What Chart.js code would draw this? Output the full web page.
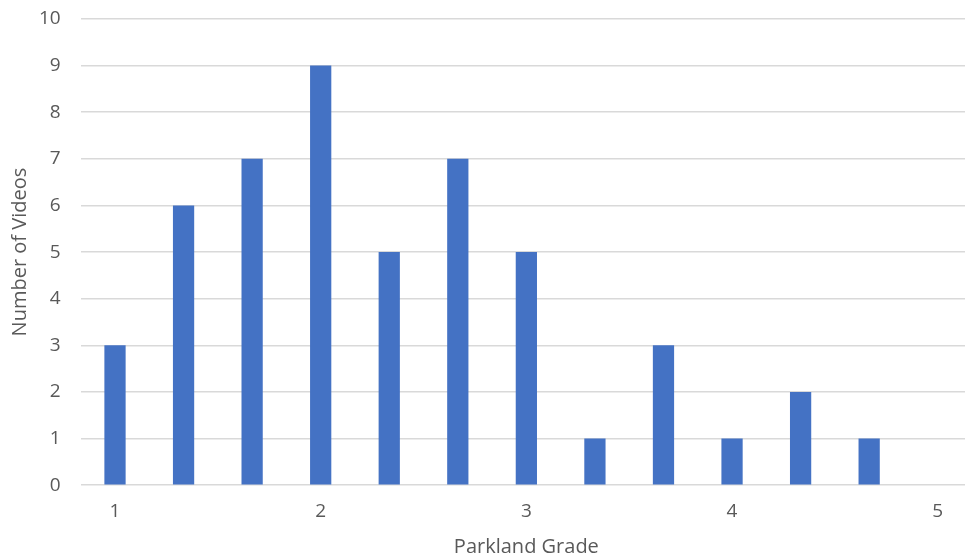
<!DOCTYPE html>
<html>
<head>
<meta charset="utf-8">
<script src="https://cdn.jsdelivr.net/npm/chart.js@4/dist/chart.umd.min.js"></script>
<style>
  html, body { margin: 0; padding: 0; background: #fff; overflow: hidden; width: 965px; height: 556px; }
  #wrap { position: absolute; left: 0; top: 0; width: 972px; height: 556px; }
</style>
</head>
<body>
<div id="wrap"><canvas id="c"></canvas></div>
<script>
// Parkland grade bins (thirds of a grade) and video counts per bin
const grades = ['1', '1.33', '1.67', '2', '2.33', '2.67', '3', '3.33', '3.67', '4', '4.33', '4.67', '5'];
const videoCounts = [3, 6, 7, 9, 5, 7, 5, 1, 3, 1, 2, 1, 0];
// Only whole grades are labelled on the axis
const shownGrades = ['1', '2', '3', '4', '5'];

const textColor = '#595959';
const fontFamily = '"Open Sans", "Liberation Sans", sans-serif';
const clear = 'rgba(0,0,0,0)';

new Chart(document.getElementById('c'), {
  type: 'bar',
  data: {
    labels: grades,
    datasets: [{
      data: videoCounts,
      backgroundColor: '#4472C4',
      borderWidth: 0,
      barPercentage: 0.62,
      categoryPercentage: 0.5
    }]
  },
  options: {
    responsive: true,
    maintainAspectRatio: false,
    animation: false,
    layout: { padding: { top: 19, right: 0, bottom: 0, left: 8 } },
    plugins: { legend: { display: false }, tooltip: { enabled: false } },
    scales: {
      x: {
        // invisible grid and tick marks; the tick length sets the label gap
        grid: { color: clear, drawTicks: true, tickLength: 15, tickColor: clear },
        border: { display: false },
        ticks: {
          autoSkip: false,
          maxRotation: 0,
          padding: 0,
          color: textColor,
          font: { family: fontFamily, size: 19 },
          callback: function (v, i) {
            const g = grades[i];
            return shownGrades.includes(g) ? g : '';
          }
        },
        title: {
          display: true,
          text: 'Parkland Grade',
          color: textColor,
          font: { family: fontFamily, size: 20 },
          padding: { top: 12, bottom: -3 }
        }
      },
      y: {
        min: 0,
        max: 10,
        // invisible tick marks leave a gap between labels and grid lines
        grid: { color: '#d9d9d9', lineWidth: 1.5, drawTicks: true, tickLength: 20, tickColor: clear },
        border: { display: false },
        ticks: {
          stepSize: 1,
          padding: 0,
          color: textColor,
          font: { family: fontFamily, size: 19 }
        },
        title: {
          display: true,
          text: 'Number of Videos',
          color: textColor,
          font: { family: fontFamily, size: 20 },
          padding: { top: 0, bottom: 7 }
        }
      }
    }
  }
});
</script>
</body>
</html>
